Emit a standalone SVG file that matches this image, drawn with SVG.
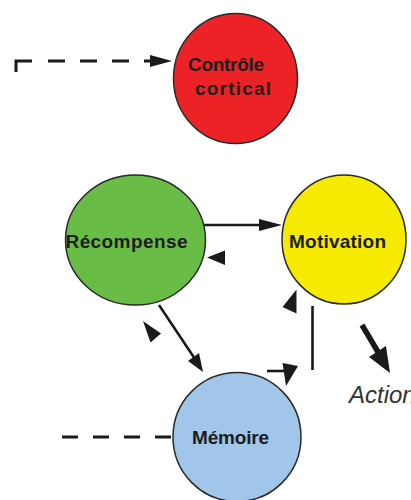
<svg xmlns="http://www.w3.org/2000/svg" width="411" height="500" viewBox="0 0 411 500">
<style>
.node{stroke:#2a2a2a;stroke-width:1.5}
.lbl{font-family:"Liberation Sans",Arial,sans-serif;font-weight:bold;font-size:19px;fill:#1c1c1c}
.ln{stroke:#1a1a1a;stroke-width:2.6;fill:none}
.dash{stroke:#1a1a1a;stroke-width:3;fill:none}
.head{fill:#1a1a1a;stroke:none}
.act{font-family:"Liberation Sans",Arial,sans-serif;font-style:italic;font-size:24px;fill:#333}
</style>
<rect width="411" height="500" fill="#fff"/>
<g id="connectors">
  <path class="dash" d="M16,72 V61 H32"/>
  <line class="dash" x1="48" y1="61" x2="152" y2="61" stroke-dasharray="17 15"/>
  <polygon class="head" points="150,55 172,61 150,67"/>
  <line class="dash" x1="62" y1="437" x2="173" y2="437" stroke-dasharray="16 15"/>
  <line class="ln" x1="203" y1="225" x2="263" y2="225"/>
  <polygon class="head" points="259,219 282,225 259,231"/>
  <polygon class="head" points="207,257.5 225,250.5 225,265"/>
  <line class="ln" x1="159" y1="305" x2="194" y2="357.5"/>
  <polygon class="head" points="188,361 203,372 199,353"/>
  <polygon class="head" points="143,321 161,333.5 150.5,342.5"/>
  <polygon class="head" points="296.5,289.5 282.5,307 296.5,313.5"/>
  <line class="ln" x1="312.5" y1="306" x2="312.5" y2="370"/>
  <line class="ln" x1="267" y1="371" x2="285" y2="371"/>
  <polygon class="head" points="282.5,363 298,366 286,386"/>
  <line stroke="#1a1a1a" stroke-width="5.5" x1="362" y1="325" x2="378" y2="352"/>
  <polygon class="head" points="369,357 390,373 386,346"/>
</g>
<g id="controle">
  <ellipse class="node" cx="235.5" cy="78.5" rx="62" ry="65" fill="#EC2227"/>
  <text class="lbl" x="188" y="71" textLength="76" lengthAdjust="spacing">Contrôle</text>
  <text class="lbl" x="195" y="95" textLength="76" lengthAdjust="spacing">cortical</text>
</g>
<g id="recompense">
  <ellipse class="node" cx="135.5" cy="240" rx="70" ry="65" fill="#69BC46"/>
  <text class="lbl" x="65.5" y="248" textLength="122" lengthAdjust="spacing">Récompense</text>
</g>
<g id="motivation">
  <ellipse class="node" cx="344" cy="239.5" rx="62" ry="64.5" fill="#F6EA00"/>
  <text class="lbl" x="289" y="248" textLength="97" lengthAdjust="spacing">Motivation</text>
</g>
<g id="memoire">
  <ellipse class="node" cx="237" cy="437" rx="64" ry="64.5" fill="#A1C6EA"/>
  <text class="lbl" x="192" y="444" textLength="77" lengthAdjust="spacing">Mémoire</text>
</g>
<g id="action">
  <text class="act" x="349" y="403">Action</text>
</g>
</svg>
